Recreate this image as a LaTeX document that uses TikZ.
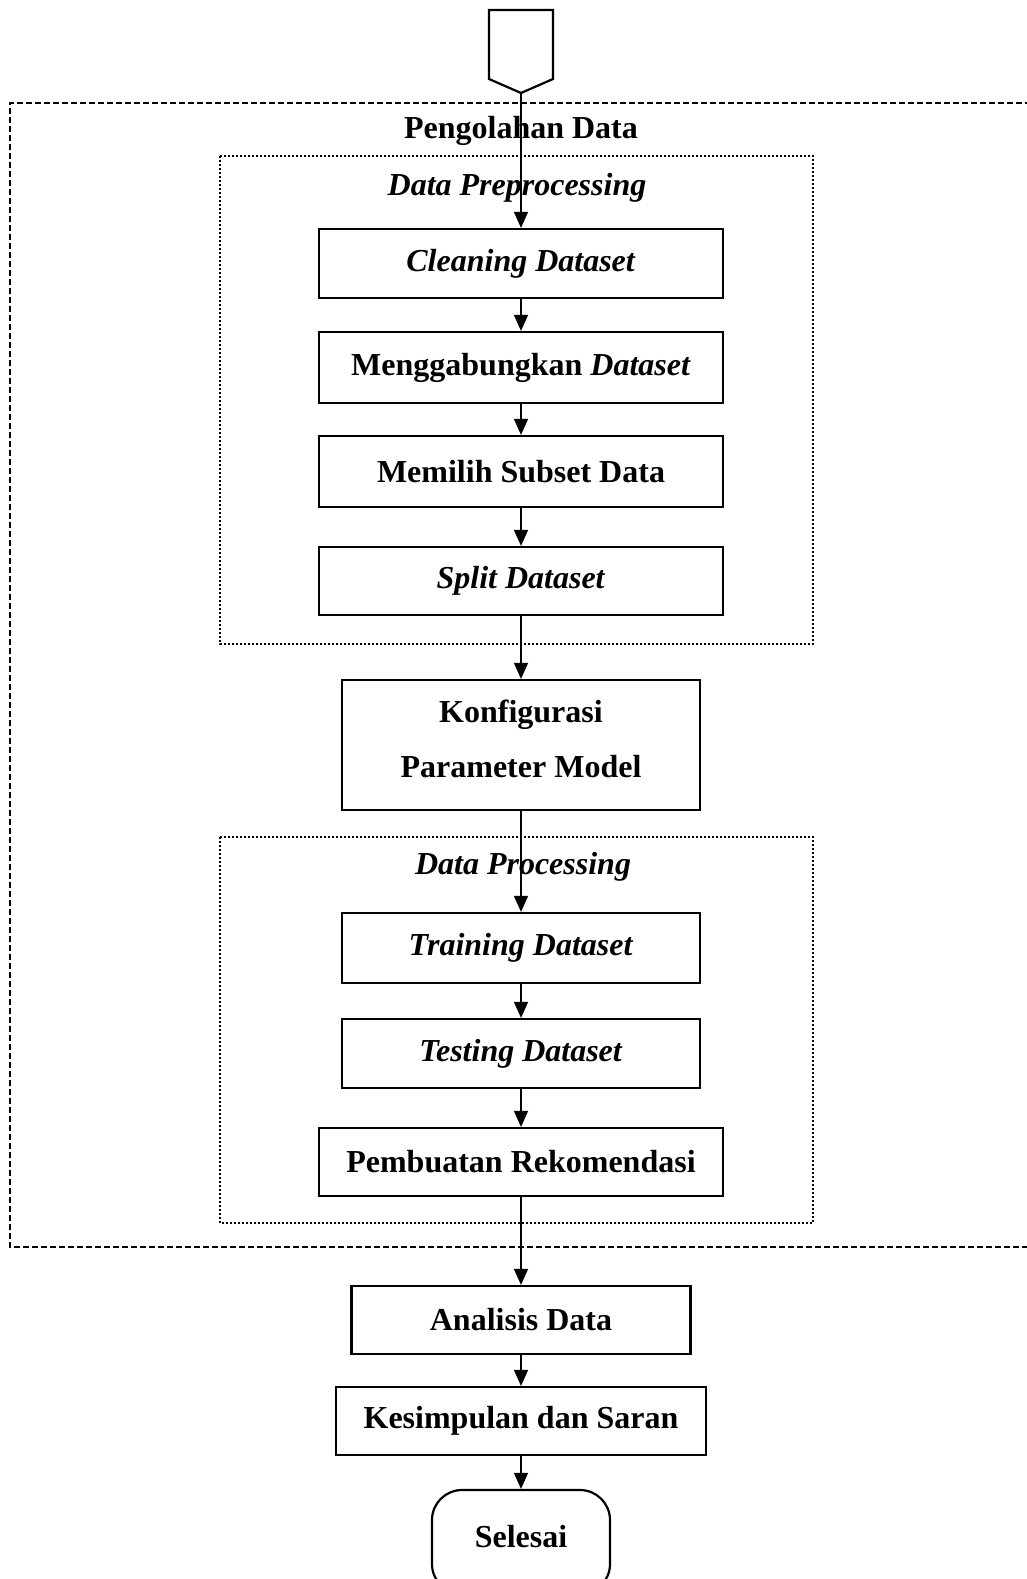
\documentclass[tikz,border=0pt]{standalone}
\usepackage{fontspec}
\setmainfont{Liberation Serif}
\usetikzlibrary{positioning,arrows.meta,calc}

\begin{document}
\begin{tikzpicture}[x=1pt,y=-1pt,
  stepbox/.style={draw,line width=2.2pt,inner sep=0pt,minimum height=69pt,
    align=center,font=\fontsize{32}{55}\selectfont\bfseries},
  title/.style={font=\fontsize{32}{40}\selectfont\bfseries,inner sep=0pt},
  arr/.style={-{Triangle[width=14pt,length=16pt]},line width=1.4pt}]
\useasboundingbox (0,0) rectangle (1027,1579);

% Frames
\draw[line width=1.8pt,dash pattern=on 6pt off 3pt] (1040,103) -- (10,103) -- (10,1247) -- (1040,1247);
\draw[line width=2pt,dash pattern=on 2pt off 2pt] (220,156) rectangle (813,644);
\draw[line width=2pt,dash pattern=on 2pt off 2pt] (220,837) rectangle (813,1223);

\node[title] (pengolahan) at (521,131) {Pengolahan Data};
\node[title] (preproc) at (517,188) {\textit{Data Preprocessing}};
\node[title] (proc) at (523,867) {\textit{Data Processing}};

% Off-page connector
\draw[line width=2.2pt,line join=miter] (489,10) -- (553,10) -- (553,79) -- (521,93) -- (489,79) -- cycle;
\coordinate (start) at (521,93);

% Steps
\node[stepbox,minimum width=404pt] (cleaning) at (521,263.5) {\textit{Cleaning Dataset}};
\node[stepbox,minimum width=404pt,minimum height=71pt] (gabung) at (521,367.5) {Menggabungkan \textit{Dataset}};
\node[stepbox,minimum width=404pt,minimum height=71pt] (subset) at (521,471.5) {Memilih Subset Data};
\node[stepbox,minimum width=404pt,minimum height=68pt] (split) at (521,581) {\textit{Split Dataset}};
\node[stepbox,minimum width=358pt,minimum height=130pt,text depth=12pt] (konfig) at (521,745) {Konfigurasi\\Parameter Model};
\node[stepbox,minimum width=358pt,minimum height=70pt] (training) at (521,948) {\textit{Training Dataset}};
\node[stepbox,minimum width=358pt] (testing) at (521,1053.5) {\textit{Testing Dataset}};
\node[stepbox,minimum width=404pt,minimum height=68pt] (rekom) at (521,1162) {Pembuatan Rekomendasi};
\node[stepbox,minimum width=339pt,minimum height=68pt] (analisis) at (521,1320) {Analisis Data};
\node[stepbox,minimum width=370pt,minimum height=68pt] (simpulan) at (521,1421) {Kesimpulan dan Saran};
\node[stepbox,minimum width=178pt,minimum height=104pt,rounded corners=30pt,text depth=11pt] (selesai) at (521,1542) {Selesai};

% Arrows
\draw[arr] (start) -- (cleaning);
\draw[arr] (cleaning) -- (gabung);
\draw[arr] (gabung) -- (subset);
\draw[arr] (subset) -- (split);
\draw[arr] (split) -- (konfig);
\draw[arr] (konfig) -- (training);
\draw[arr] (training) -- (testing);
\draw[arr] (testing) -- (rekom);
\draw[arr] (rekom) -- (analisis);
\draw[arr] (analisis) -- (simpulan);
\draw[arr] (simpulan) -- (selesai);
\end{tikzpicture}
\end{document}
